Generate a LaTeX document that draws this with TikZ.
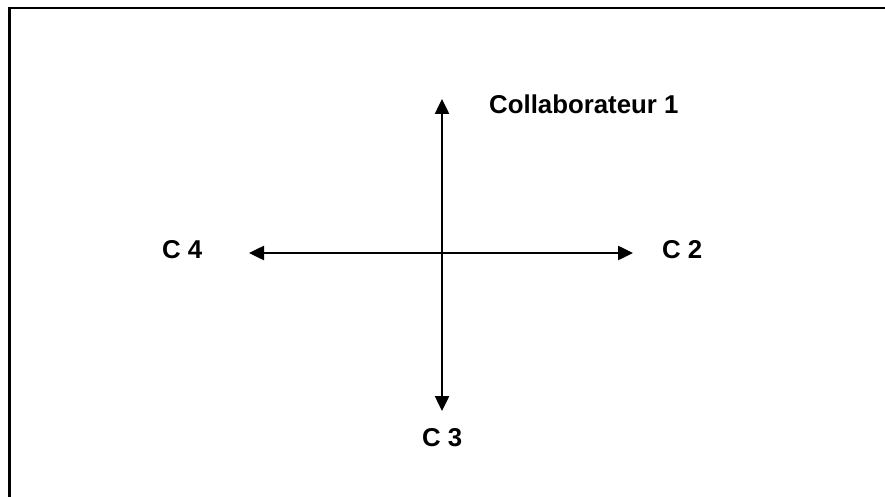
\documentclass[tikz,border=0pt]{standalone}
\usepackage{fontspec}
\setmainfont{Liberation Sans}
\usetikzlibrary{arrows.meta}

\begin{document}
\begin{tikzpicture}[
    x=1pt, y=-1pt,
    axis/.style={line width=2.5pt, {Triangle[length=15pt, width=14pt]}-{Triangle[length=15pt, width=14pt]}},
    frame/.style={line width=2.5pt},
    label/.style={font=\fontsize{25.8}{31}\selectfont\bfseries, inner sep=0pt, anchor=base west}
]
\useasboundingbox (0,0) rectangle (885,497);

% Frame
\draw[frame] (9.5,497) -- (9.5,8) -- (885,8);

% Ends of the axes
\coordinate (up) at (442,99);
\coordinate (down) at (442,411);
\coordinate (left) at (249,253);
\coordinate (right) at (633,253);

% Axes
\draw[axis] (up) -- (down);
\draw[axis] (left) -- (right);

% Labels
\node[label] (c1) at (489,114) {Collaborateur 1};
\node[label] (c2) at (662,258) {C 2};
\node[label] (c3) at (422,446) {C 3};
\node[label] (c4) at (162,258) {C 4};
\end{tikzpicture}
\end{document}
